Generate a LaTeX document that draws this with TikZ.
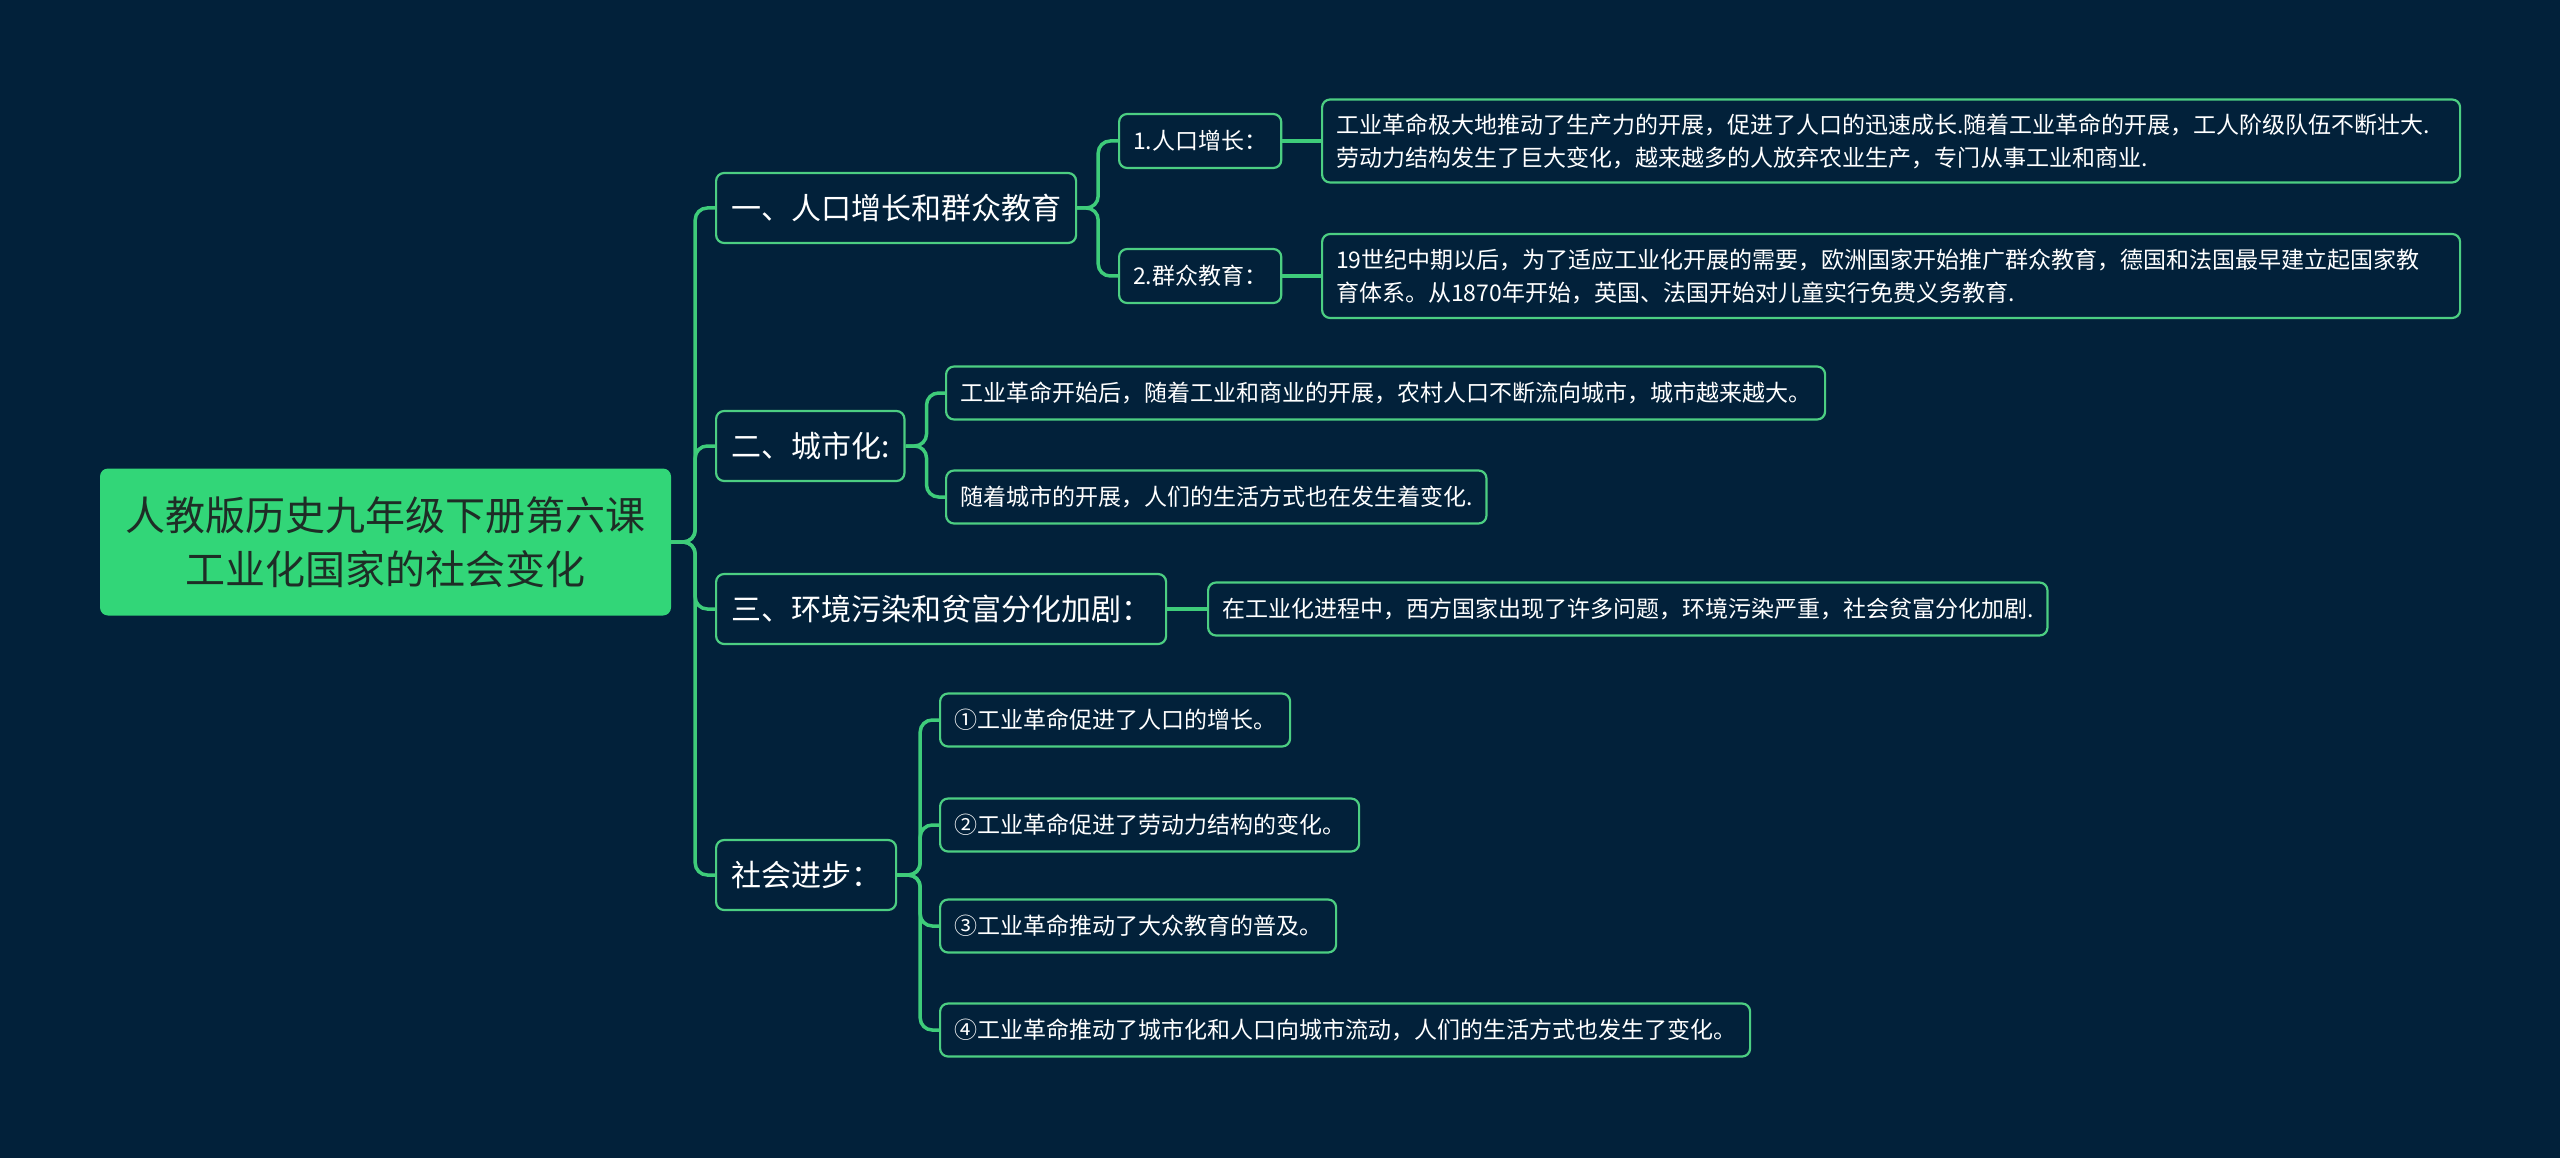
\documentclass[tikz,border=0pt]{standalone}
\usepackage{fontspec}
\setmainfont{Noto Sans CJK SC}
\definecolor{bg}{RGB}{2,33,58}
\definecolor{gline}{RGB}{62,204,122}
\definecolor{gborder}{RGB}{76,206,130}
\definecolor{rootfill}{RGB}{50,214,120}
\definecolor{roottext}{RGB}{30,45,38}
\begin{document}
\begin{tikzpicture}[x=1pt,y=-1pt,
  box/.style={draw=gborder, line width=2.2pt, rounded corners=8pt, fill=bg, text=white, anchor=west, inner xsep=14pt, inner ysep=0pt, align=left},
  lone/.style={box, font=\fontsize{30}{36}\selectfont, minimum height=70pt, inner xsep=15pt},
  ltwo/.style={box, font=\fontsize{23}{33}\selectfont, minimum height=54pt},
  leaf/.style={box, font=\fontsize{23}{33}\selectfont, minimum height=53pt},
  conn/.style={draw=gline, line width=3.5pt, rounded corners=12pt}]
\fill[bg] (0,0) rectangle (2560,1158);
\useasboundingbox (0,0) rectangle (2560,1158);

\node[fill=rootfill, rounded corners=8pt, minimum width=571pt, minimum height=147pt, text=roottext, align=center, inner sep=0pt, font=\fontsize{40}{54}\selectfont] (root) at (385.5,542) {人教版历史九年级下册第六课\\工业化国家的社会变化};

\node[lone] (n1) at (715,208) {一、人口增长和群众教育};
\node[lone] (n2) at (715,446) {二、城市化:};
\node[lone] (n3) at (715,609) {三、环境污染和贫富分化加剧：};
\node[lone] (n4) at (715,875) {社会进步：};

\node[ltwo] (n11) at (1118,141) {1.人口增长：};
\node[ltwo] (n12) at (1118,276) {2.群众教育：};

\node[leaf, minimum height=83pt, text width=1110pt] (l11) at (1321,141) {工业革命极大地推动了生产力的开展，促进了人口的迅速成长.随着工业革命的开展，工人阶级队伍不断壮大.\\劳动力结构发生了巨大变化，越来越多的人放弃农业生产，专门从事工业和商业.};
\node[leaf, minimum height=84pt, text width=1110pt] (l12) at (1321,276) {19世纪中期以后，为了适应工业化开展的需要，欧洲国家开始推广群众教育，德国和法国最早建立起国家教\\育体系。从1870年开始，英国、法国开始对儿童实行免费义务教育.};

\node[leaf] (l21) at (945,393) {工业革命开始后，随着工业和商业的开展，农村人口不断流向城市，城市越来越大。};
\node[leaf] (l22) at (945,497) {随着城市的开展，人们的生活方式也在发生着变化.};

\node[leaf] (l31) at (1207,609) {在工业化进程中，西方国家出现了许多问题，环境污染严重，社会贫富分化加剧.};

\node[leaf] (l41) at (939,720) {①工业革命促进了人口的增长。};
\node[leaf] (l42) at (939,825) {②工业革命促进了劳动力结构的变化。};
\node[leaf] (l43) at (939,926) {③工业革命推动了大众教育的普及。};
\node[leaf] (l44) at (939,1030) {④工业革命推动了城市化和人口向城市流动，人们的生活方式也发生了变化。};

\draw[conn] (root.east) -- ++(24,0) |- (n1.west);
\draw[conn] (root.east) -- ++(24,0) |- (n2.west);
\draw[conn] (root.east) -- ++(24,0) |- (n3.west);
\draw[conn] (root.east) -- ++(24,0) |- (n4.west);

\draw[conn] (n1.east) -- ++(21,0) |- (n11.west);
\draw[conn] (n1.east) -- ++(21,0) |- (n12.west);
\draw[conn] (n11.east) -- (l11.west);
\draw[conn] (n12.east) -- (l12.west);

\draw[conn] (n2.east) -- ++(21,0) |- (l21.west);
\draw[conn] (n2.east) -- ++(21,0) |- (l22.west);

\draw[conn] (n3.east) -- (l31.west);

\draw[conn] (n4.east) -- ++(23,0) |- (l41.west);
\draw[conn] (n4.east) -- ++(23,0) |- (l42.west);
\draw[conn] (n4.east) -- ++(23,0) |- (l43.west);
\draw[conn] (n4.east) -- ++(23,0) |- (l44.west);
\end{tikzpicture}
\end{document}
